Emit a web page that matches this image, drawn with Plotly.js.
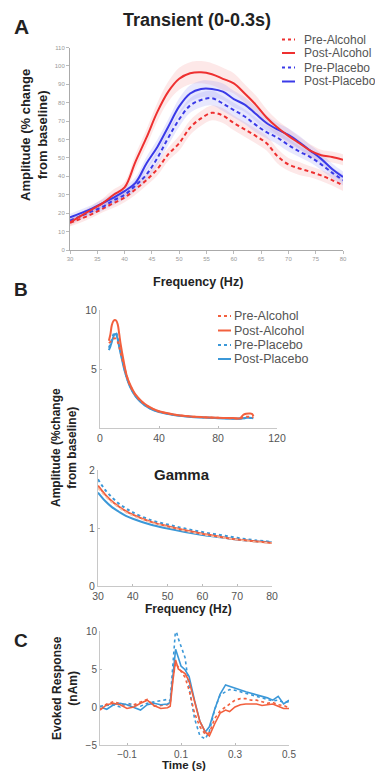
<!DOCTYPE html>
<html>
<head>
<meta charset="utf-8">
<script src="https://cdn.plot.ly/plotly-3.0.1.min.js"></script>
<style>html,body{margin:0;padding:0;background:#fff;}#chart{width:375px;height:771px;}</style>
</head>
<body>
<div id="chart"></div>
<script>
// ---------- Panel A: Transient (0-0.3s) ----------
const freqA = [30,32,34,36,38,40,42,44,46,48,50,52,54,56,58,60,62,64,66,68,70,72,74,76,78,80];
const preAlcA  = [14.8,17,19.5,22.5,25.5,28.5,33,38,44,52,58,66.5,71.5,74.5,73,69,65.5,62,58,51,46.5,44.3,42.5,40.5,38,35];
const postAlcA = [15,18.5,22,25.5,30,34,48,61,75,86,93,96,96.6,95.5,93,90.5,85,79,72,66.5,62,58,54,51.5,50.5,49];
const prePlaA  = [16,18.5,21,23.5,27,30,35,41,50,61,71,78.5,81.5,82.5,79.5,76,72.5,68,64,61,57,53.5,50.5,46.5,42,38];
const postPlaA = [17.7,20,22.5,25.5,28.5,32,36.5,47,56,67,78,85,87.5,87.5,86,82,79,74,69,65.5,62.5,58.5,54,49.5,44,39.7];
const semPreAlcA  = [2,2,2,2,2.5,2.5,3,3,3.5,3.5,4,4,4,4,4,4,4,4,4,4,3.5,3.5,3,3,3,3];
const semPostAlcA = [2,2,2,2.5,3,3,4,4.5,5,5.5,6,6,6,6,6,5.5,5,5,4.5,4,4,3.5,3.5,3,3,3];
const semPrePlaA  = [2,2,2,2,2.5,2.5,3,3.5,4,4,4,4,4,4,4,4,4,4,3.5,3.5,3.5,3,3,3,3,3];
const semPostPlaA = [2,2,2,2,2.5,2.5,3,3.5,4,4,4.5,4.5,4.5,4.5,4.5,4.5,4,4,4,3.5,3.5,3.5,3,3,3,3];
const ticksAx = [30,35,40,45,50,55,60,65,70,75,80];
const ticksAy = [0,10,20,30,40,50,60,70,80,90,100,110];

// ---------- Panel B top: full spectrum ----------
const freqB = [6,7,8,9,10,11,12,13,14,16,18,20,24,28,32,36,40,50,60,70,80,90,95,97,99,101,103,104];
const preAlcB  = [7.2,7.3,7.45,7.55,7.6,7.55,7.3,6.9,6.4,5.4,4.45,3.7,2.8,2.25,1.85,1.6,1.4,1.13,0.99,0.91,0.86,0.82,0.81,0.9,0.95,0.96,0.94,0.9];
const postAlcB = [7.4,7.9,8.7,9.05,9.15,9.1,8.8,8.0,7.1,5.7,4.5,3.8,2.85,2.3,1.9,1.62,1.42,1.15,1.0,0.92,0.87,0.84,0.83,1.1,1.2,1.22,1.2,1.0];
const prePlaB  = [6.8,7.1,7.5,7.9,8.1,8.05,7.7,7.1,6.5,5.3,4.35,3.65,2.75,2.18,1.8,1.55,1.38,1.12,0.98,0.9,0.85,0.81,0.8,0.82,0.84,0.85,0.84,0.82];
const postPlaB = [6.6,6.9,7.3,7.7,7.95,7.9,7.5,6.9,6.3,5.2,4.3,3.6,2.7,2.15,1.78,1.52,1.35,1.1,0.96,0.88,0.83,0.79,0.78,0.82,0.86,0.87,0.85,0.82];
const ticksBx = [0,40,80,120];
const ticksBy = [5,10];

// ---------- Panel B bottom: Gamma ----------
const freqG = [30,32,34,36,38,40,45,50,55,60,65,70,75,80];
const preAlcG  = [1.69,1.55,1.44,1.35,1.27,1.21,1.10,1.02,0.95,0.89,0.84,0.80,0.76,0.74];
const postAlcG = [1.73,1.58,1.46,1.37,1.29,1.23,1.11,1.03,0.96,0.90,0.85,0.80,0.77,0.74];
const prePlaG  = [1.84,1.66,1.53,1.42,1.34,1.27,1.14,1.06,0.99,0.93,0.88,0.83,0.79,0.76];
const postPlaG = [1.61,1.47,1.36,1.28,1.21,1.16,1.06,0.99,0.93,0.88,0.84,0.80,0.77,0.75];
const ticksGx = [30,40,50,60,70,80];
const ticksGy = [0,1,2];

// ---------- Panel C: evoked response ----------
const timeC = [-0.2,-0.175,-0.15,-0.125,-0.1,-0.075,-0.05,-0.025,0,0.025,0.05,0.06,0.07,0.08,0.09,0.1,0.115,0.13,0.15,0.17,0.19,0.205,0.225,0.245,0.265,0.28,0.3,0.32,0.34,0.36,0.38,0.4,0.42,0.44,0.46,0.48,0.5];
const preAlcC  = [-0.2,0.4,0.7,0.5,0.2,0.3,0.7,1.0,0.1,0.2,0.3,0.5,3.8,5.8,5.2,4.7,3.9,2.2,-0.8,-2.6,-3.6,-3.4,-1.5,-0.5,0.0,0.4,0.9,1.1,1.1,0.9,0.9,0.7,0.5,0.6,0.3,0.2,-0.1];
const postAlcC = [-0.4,0.3,0.5,0.3,-0.2,0.0,0.5,0.9,0.2,-0.2,-0.1,0.1,3.5,6.2,5.0,4.8,4.4,3.4,0.6,-1.9,-3.3,-3.8,-2.2,-0.8,-0.4,-0.6,0.0,0.3,0.4,0.4,0.4,0.2,0.3,0.4,0.1,-0.2,-0.2];
const prePlaC  = [0.1,0.2,0.3,0.0,0.5,0.3,0.1,0.5,0.7,0.9,1.0,0.8,5.0,10.3,9.0,8.0,6.5,2.6,-1.5,-3.8,-4.2,-3.2,-0.3,1.6,2.0,2.3,2.2,2.0,1.8,1.5,1.3,1.1,0.9,0.8,0.9,0.6,0.7];
const postPlaC = [0.0,-0.3,0.3,0.5,0.3,0.0,-0.4,0.3,0.5,0.3,0.4,0.6,4.5,7.6,6.5,5.4,4.9,4.0,0.9,-1.9,-3.3,-2.6,-0.3,1.7,2.9,2.7,2.5,2.2,2.0,1.8,1.6,1.5,1.2,0.9,1.4,0.4,0.9];
const ticksCx = [-0.1,0.1,0.3,0.5];
const ticksCy = [-5,0,5,10];

const seriesNames = ["Pre-Alcohol","Post-Alcohol","Pre-Placebo","Post-Placebo"];

// ---------- styles ----------
const W = 375, H = 771;
const px = x => x / W;
const py = y => 1 - y / H;
const FONT = "Liberation Sans, Arial, sans-serif";
const redA = "#ee3030", blueA = "#3a3ae8";
const redB = "#f2603e", blueB = "#3b98d8";
const bandRed = "rgba(246,150,150,0.22)", bandBlue = "rgba(150,150,245,0.22)";

const traces = [];
function band(x, m, s, color, xa, ya) {
  traces.push({x: x, y: m.map((v,i)=>v+s[i]), type:"scatter", mode:"lines", line:{width:0, shape:"spline"}, xaxis:xa, yaxis:ya, showlegend:false, hoverinfo:"skip"});
  traces.push({x: x, y: m.map((v,i)=>v-s[i]), type:"scatter", mode:"lines", line:{width:0, shape:"spline"}, fill:"tonexty", fillcolor:color, xaxis:xa, yaxis:ya, showlegend:false, hoverinfo:"skip"});
}
function line(x, y, name, color, dash, width, xa, ya, shape) {
  traces.push({x: x, y: y, name: name, type:"scatter", mode:"lines", line:{color:color, dash:dash, width:width, shape:shape||"linear"}, xaxis:xa, yaxis:ya, showlegend:false});
}

// Panel A
band(freqA, postAlcA, semPostAlcA, bandRed, "x", "y");
band(freqA, preAlcA, semPreAlcA, bandRed, "x", "y");
band(freqA, postPlaA, semPostPlaA, bandBlue, "x", "y");
band(freqA, prePlaA, semPrePlaA, bandBlue, "x", "y");
line(freqA, preAlcA, seriesNames[0], redA, "4px,3px", 2, "x", "y", "spline");
line(freqA, prePlaA, seriesNames[2], blueA, "4px,3px", 2, "x", "y", "spline");
line(freqA, postPlaA, seriesNames[3], blueA, "solid", 2, "x", "y", "spline");
line(freqA, postAlcA, seriesNames[1], redA, "solid", 2, "x", "y", "spline");

// Panel B top
line(freqB, postPlaB, seriesNames[3], blueB, "solid", 2, "x2", "y2", "spline");
line(freqB, prePlaB, seriesNames[2], blueB, "dot", 2, "x2", "y2", "spline");
line(freqB, postAlcB, seriesNames[1], redB, "solid", 2, "x2", "y2", "spline");
line(freqB, preAlcB, seriesNames[0], redB, "dot", 2, "x2", "y2", "spline");

// Gamma
line(freqG, postPlaG, seriesNames[3], blueB, "solid", 2, "x3", "y3", "spline");
line(freqG, prePlaG, seriesNames[2], blueB, "dot", 2, "x3", "y3", "spline");
line(freqG, postAlcG, seriesNames[1], redB, "solid", 2, "x3", "y3", "spline");
line(freqG, preAlcG, seriesNames[0], "#f7c0a8", "dot", 1.5, "x3", "y3", "spline");

// Panel C
line(timeC, prePlaC, seriesNames[2], blueB, "dot", 1.6, "x4", "y4");
line(timeC, preAlcC, seriesNames[0], redB, "dot", 1.6, "x4", "y4");
line(timeC, postPlaC, seriesNames[3], blueB, "solid", 1.6, "x4", "y4");
line(timeC, postAlcC, seriesNames[1], redB, "solid", 1.6, "x4", "y4");

function axis(dom, range, ticks, anchor, opts) {
  return Object.assign({
    domain: dom, range: range, autorange: false, anchor: anchor,
    tickmode: "array", tickvals: ticks, ticks: "outside", ticklen: 2, tickcolor: "#bbb",
    showline: true, linecolor: "#c8c8c8", linewidth: 1, showgrid: false, zeroline: false,
    tickfont: {family: FONT, size: 10.5, color: "#555"}, fixedrange: true
  }, opts || {});
}

const layout = {
  width: W, height: H,
  margin: {l:0, r:0, t:0, b:0},
  paper_bgcolor: "#fff", plot_bgcolor: "rgba(0,0,0,0)",
  showlegend: false,
  font: {family: FONT, color: "#333"},
  title: {text: "<b>Transient (0-0.3s)</b>", x: px(197), y: py(20), xref: "paper", yref: "paper", xanchor: "center", yanchor: "middle", font: {family: FONT, size: 18, color: "#222"}},
  xaxis:  axis([px(70), px(343)], [30, 80], ticksAx, "y", {tickfont:{family:FONT,size:6,color:"#999"}, linecolor:"#aaa", ticklen:3}),
  yaxis:  axis([py(250), py(47.5)], [0, 110], ticksAy, "x", {tickfont:{family:FONT,size:6,color:"#999"}, linecolor:"#aaa", ticklen:3}),
  xaxis2: axis([px(100), px(277)], [0, 120], ticksBx, "y2", {ticks:"inside"}),
  yaxis2: axis([py(428), py(310)], [0, 10], ticksBy, "x2", {ticks:"inside"}),
  xaxis3: axis([px(98), px(272)], [30, 80], ticksGx, "y3", {ticks:"inside"}),
  yaxis3: axis([py(586), py(470)], [0, 2], ticksGy, "x3", {ticks:"inside"}),
  xaxis4: axis([px(100), px(289)], [-0.2, 0.5], ticksCx, "y4", {ticks:"inside", tickfont:{family:FONT,size:10,color:"#555"}}),
  yaxis4: axis([py(745), py(631)], [-5, 10], ticksCy, "x4", {ticks:"inside", tickfont:{family:FONT,size:10,color:"#555"}}),
  annotations: [],
  shapes: []
};

function ann(text, x, y, size, opts) {
  layout.annotations.push(Object.assign({
    text: text, x: px(x), y: py(y), xref: "paper", yref: "paper", showarrow: false,
    xanchor: "center", yanchor: "middle", font: {family: FONT, size: size, color: "#222"}
  }, opts || {}));
}
// panel letters
ann("<b>A</b>", 21, 27, 21);
ann("<b>B</b>", 21, 289, 19);
ann("<b>C</b>", 21, 640, 19);
// axis titles
ann("<b>Amplitude (% change<br>from baseline)</b>", 34, 135, 13, {textangle: -90});
ann("<b>Frequency (Hz)</b>", 198, 282, 12.5);
ann("<b>Amplitude (%change<br>from baseline)</b>", 64, 448, 12, {textangle: -90});
ann("<b>Gamma</b>", 182, 474, 15);
ann("<b>Frequency (Hz)</b>", 188, 609, 12);
ann("<b>Evoked Response<br>(nAm)</b>", 65, 688, 12, {textangle: -90});
ann("<b>Time (s)</b>", 184, 764.5, 11.5);

// legends
const legA = [{c: redA, d: "dot"}, {c: redA, d: "solid"}, {c: blueA, d: "dot"}, {c: blueA, d: "solid"}];
const legARows = [39.5, 53, 67.5, 81.5];
legA.forEach((s, i) => {
  layout.shapes.push({type: "line", xref: "paper", yref: "paper", x0: px(282), x1: px(295), y0: py(legARows[i]), y1: py(legARows[i]), line: {color: s.c, width: 2, dash: s.d}});
  ann(seriesNames[i], 302, legARows[i], 12, {xanchor: "left", font: {family: FONT, size: 12, color: "#555"}});
});
const legB = [{c: redB, d: "dot"}, {c: redB, d: "solid"}, {c: blueB, d: "dot"}, {c: blueB, d: "solid"}];
const legBRows = [316, 330.5, 345, 359];
legB.forEach((s, i) => {
  layout.shapes.push({type: "line", xref: "paper", yref: "paper", x0: px(218), x1: px(231), y0: py(legBRows[i]), y1: py(legBRows[i]), line: {color: s.c, width: 2, dash: s.d}});
  ann(seriesNames[i], 232, legBRows[i], 12.5, {xanchor: "left", font: {family: FONT, size: 12.5, color: "#555"}});
});

Plotly.newPlot("chart", traces, layout, {staticPlot: true, displayModeBar: false});
</script>
</body>
</html>
